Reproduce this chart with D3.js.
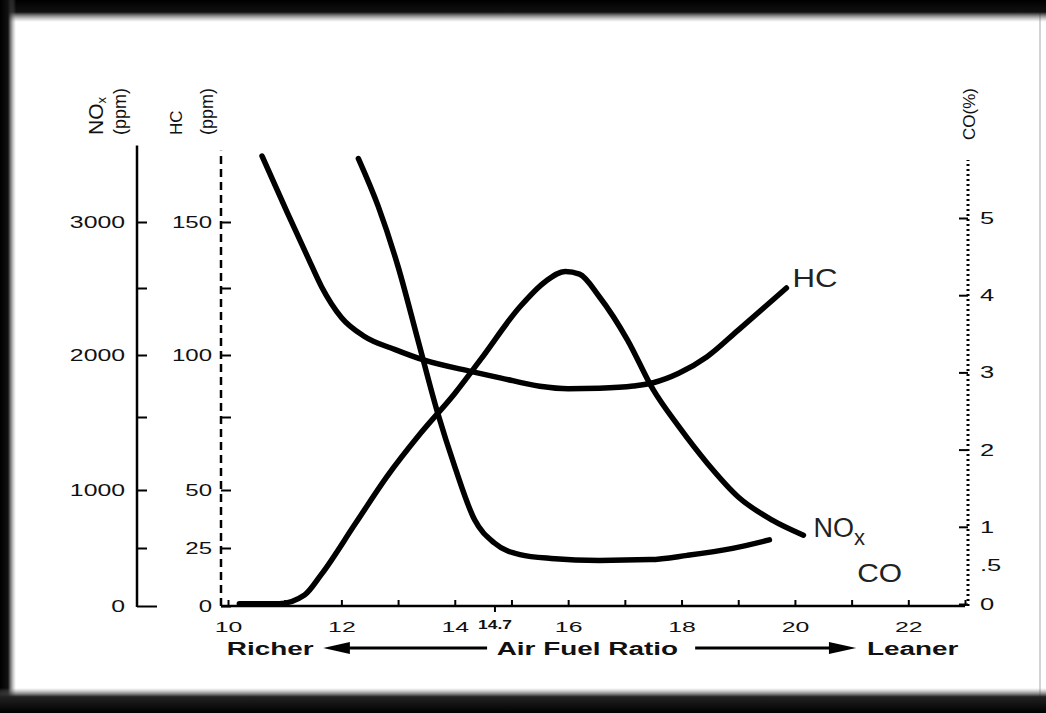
<!DOCTYPE html>
<html>
<head>
<meta charset="utf-8">
<script src="https://cdn.jsdelivr.net/npm/d3@7"></script>
<style>
body { margin: 0; background: #fff; }
svg { display: block; font-family: "Liberation Sans", Arial, sans-serif; }
</style>
</head>
<body>
<svg id="chart" width="1046" height="713"></svg>
<script>
// emissions vs air/fuel ratio
var hcAfr  = [10.6, 11.05, 11.4, 11.65, 12.0, 12.4, 12.95, 13.45, 14.3, 14.8, 15.5, 16.0, 16.55, 17.15, 17.5, 17.95, 18.45, 19.0, 19.85];
var hcPpm  = [175, 153.4, 137, 125.5, 114, 107, 102, 98, 93.3, 90.8, 87.4, 86.4, 86.6, 87.5, 88.8, 92.6, 99.3, 109.3, 125];

var coAfr  = [12.3, 12.65, 13.0, 13.35, 13.7, 14.0, 14.35, 14.7, 15.15, 15.7, 16.55, 17.45, 18.1, 18.9, 19.55];
var coPct  = [5.77, 5.15, 4.37, 3.42, 2.47, 1.78, 1.09, 0.79, 0.64, 0.59, 0.565, 0.575, 0.63, 0.72, 0.83];

var noxAfr = [10.2, 10.9, 11.35, 11.65, 12.25, 12.8, 13.4, 14.0, 14.45, 15.15, 15.6, 15.95, 16.2, 16.55, 17.05, 17.5, 17.95, 18.45, 19.0, 19.6, 20.15];
var noxPpm = [20, 20, 95, 275, 713, 1090, 1390, 1690, 1960, 2360, 2550, 2625, 2605, 2435, 2110, 1720, 1435, 1185, 940, 740, 610];

// ticks and labels
var afrTicks  = [10, 11, 12, 13, 14, 15, 16, 17, 18, 19, 20, 21, 22, 23];
var afrLabels = [10, 12, 14, 16, 18, 20, 22];
var stoich    = [14.7];
var noxTicks  = [0, 500, 1000, 1500, 2000, 2500, 3000];
var noxLabels = [0, 1000, 2000, 3000];
var hcTicks   = [0, 25, 50, 75, 100, 125, 150];
var hcLabels  = [0, 25, 50, 100, 150];
var coTicks   = [0, 0.5, 1, 2, 3, 4, 5];

(function () {
var W = 1046, H = 713;
var svg = d3.select("#chart");

var noxAxisX = 137, hcAxisX = 221, coAxisX = 968, baseY = 606;

var x = d3.scaleLinear().domain([10, 23]).range([228, 965]);
// the printed left scale is not quite even, so a piecewise scale
var noxY = d3.scaleLinear()
    .domain([0, 500, 1000, 1500, 2000, 2500, 3000, 3500])
    .range([606, 548, 490, 417, 355, 288, 222, 156]);
var hcY = d3.scaleLinear()
    .domain(noxY.domain().map(function (d) { return d / 20; }))
    .range(noxY.range());
var coY = d3.scaleLinear().domain([0, 5]).range([604, 218]);

// stretch text horizontally like the scanned original
function stretch(sel, k) {
  sel.each(function () {
    var w = this.getComputedTextLength();
    if (w > 0) d3.select(this).attr("textLength", w * k).attr("lengthAdjust", "spacingAndGlyphs");
  });
}

// frame shading
var defs = svg.append("defs");
function grad(id, x2, y2, stops) {
  var g = defs.append("linearGradient").attr("id", id)
      .attr("x1", 0).attr("y1", 0).attr("x2", x2).attr("y2", y2);
  stops.forEach(function (s) {
    g.append("stop").attr("offset", s[0]).attr("stop-color", s[1]).attr("stop-opacity", s[2]);
  });
}
grad("shTop", 0, 1, [[0, "#000", 1], [0.55, "#111", 1], [1, "#888", 0]]);
grad("shLeft", 1, 0, [[0, "#000", 1], [0.5, "#111", 1], [1, "#888", 0]]);
grad("shBot", 0, 1, [[0, "#888", 0], [0.35, "#222", 1], [1, "#000", 1]]);

svg.append("rect").attr("width", W).attr("height", H).attr("fill", "#fff");
svg.append("line").attr("x1", 1040).attr("x2", 1040).attr("y1", 0).attr("y2", H)
    .attr("stroke", "#d4d4d4").attr("stroke-width", 2);
svg.append("rect").attr("x", 0).attr("y", 0).attr("width", W).attr("height", 22).attr("fill", "url(#shTop)");
svg.append("rect").attr("x", 0).attr("y", 0).attr("width", 16).attr("height", H).attr("fill", "url(#shLeft)");
svg.append("rect").attr("x", 0).attr("y", 688).attr("width", W).attr("height", 25).attr("fill", "url(#shBot)");

function styleAxis(g, size) {
  g.attr("font-family", null).attr("font-size", size);
  g.select(".domain").remove();
  g.selectAll(".tick line").attr("stroke", "#000").attr("stroke-width", 2);
  g.selectAll(".tick text").attr("fill", "#111");
}

// NOx axis (solid)
var gNox = svg.append("g").attr("transform", "translate(" + noxAxisX + ",0)")
    .call(d3.axisLeft(noxY).tickValues(noxTicks).tickSizeInner(-10).tickSizeOuter(0).tickPadding(12)
      .tickFormat(function (d) { return noxLabels.indexOf(d) >= 0 ? d : ""; }));
styleAxis(gNox, 16);
gNox.selectAll(".tick").filter(function (d) { return d === 0; }).select("line").attr("x2", 20);
gNox.append("line").attr("y1", noxY(0) + 1).attr("y2", noxY(3580))
    .attr("stroke", "#000").attr("stroke-width", 2.5);
stretch(gNox.selectAll(".tick text"), 1.55);

// HC axis (dashed)
var gHc = svg.append("g").attr("transform", "translate(" + hcAxisX + ",0)")
    .call(d3.axisLeft(hcY).tickValues(hcTicks).tickSizeInner(-10).tickSizeOuter(0).tickPadding(9)
      .tickFormat(function (d) { return hcLabels.indexOf(d) >= 0 ? d : ""; }));
styleAxis(gHc, 16);
gHc.append("line").attr("y1", hcY(0)).attr("y2", hcY(177))
    .attr("stroke", "#000").attr("stroke-width", 2.5).attr("stroke-dasharray", "8,5");
stretch(gHc.selectAll(".tick text"), 1.5);

// CO axis (dotted, right)
var gCo = svg.append("g").attr("transform", "translate(" + coAxisX + ",0)")
    .call(d3.axisRight(coY).tickValues(coTicks).tickSizeInner(-9).tickSizeOuter(0).tickPadding(12)
      .tickFormat(function (d) { return d === 0.5 ? ".5" : d; }));
styleAxis(gCo, 17);
gCo.selectAll(".tick").filter(function (d) { return d === 0.5; }).select("line").remove();
gCo.append("line").attr("y1", baseY).attr("y2", coY(5.75))
    .attr("stroke", "#000").attr("stroke-width", 3).attr("stroke-dasharray", "2,3");
stretch(gCo.selectAll(".tick text"), 1.5);

// x axis
var gX = svg.append("g").attr("transform", "translate(0," + baseY + ")")
    .call(d3.axisBottom(x).tickValues(afrTicks).tickSizeInner(-6).tickSizeOuter(0).tickPadding(15)
      .tickFormat(function (d) { return afrLabels.indexOf(d) >= 0 ? d : ""; }));
styleAxis(gX, 15.5);
gX.append("line").attr("x1", hcAxisX).attr("x2", x(23))
    .attr("stroke", "#000").attr("stroke-width", 2.5);
stretch(gX.selectAll(".tick text"), 1.6);

var gS = svg.append("g").attr("transform", "translate(0," + baseY + ")")
    .call(d3.axisBottom(x).tickValues(stoich).tickSize(6).tickPadding(8)
      .tickFormat(function (d) { return d; }));
styleAxis(gS, 12);
gS.selectAll(".tick text").attr("font-weight", "bold");
stretch(gS.selectAll(".tick text"), 1.45);

// axis titles
function vtitle(px, py, size) {
  return svg.append("text").attr("transform", "translate(" + px + "," + py + ") rotate(-90)")
      .attr("font-size", size).attr("fill", "#111");
}
var tn = vtitle(103, 135, 21);
tn.append("tspan").text("NO");
tn.append("tspan").attr("font-size", 13).attr("dy", 3).text("x");
vtitle(126, 135, 18).text("(ppm)");
vtitle(182, 135, 17).text("HC");
vtitle(213, 135, 18).text("(ppm)");
vtitle(975, 140, 17).text("CO(%)");

// curves
var line = d3.line().curve(d3.curveMonotoneX);
function curve(afr, vals, yScale) {
  svg.append("path")
      .attr("d", line(afr.map(function (a, i) { return [x(a), yScale(vals[i])]; })))
      .attr("fill", "none").attr("stroke", "#000").attr("stroke-width", 5.5)
      .attr("stroke-linecap", "round").attr("stroke-linejoin", "round");
}
curve(hcAfr, hcPpm, hcY);
curve(coAfr, coPct, coY);
curve(noxAfr, noxPpm, noxY);

// curve labels
var lHc = svg.append("text").attr("x", x(hcAfr[hcAfr.length - 1]) + 6).attr("y", hcY(hcPpm[hcPpm.length - 1]) - 1)
    .attr("font-size", 26).attr("fill", "#222").text("HC");
stretch(lHc, 1.2);
var lNox = svg.append("text").attr("x", x(noxAfr[noxAfr.length - 1]) + 10).attr("y", noxY(noxPpm[noxPpm.length - 1]) + 2)
    .attr("font-size", 27).attr("fill", "#222");
lNox.append("tspan").text("NO");
lNox.append("tspan").attr("font-size", 22).attr("dy", 8).text("x");
var lCo = svg.append("text").attr("x", x(21.1)).attr("y", coY(0.29))
    .attr("font-size", 26).attr("fill", "#222").text("CO");
stretch(lCo, 1.15);

// richer / leaner caption
var capY = 655, arrY = 648;
function bold(v, t) {
  var s = svg.append("text").attr("x", x(v)).attr("y", capY)
      .attr("font-size", 18).attr("font-weight", "bold").attr("fill", "#111").text(t);
  stretch(s, 1.55);
}
bold(9.98, "Richer");
bold(14.74, "Air Fuel Ratio");
bold(21.27, "Leaner");
svg.append("line").attr("x1", x(11.9)).attr("x2", x(14.57)).attr("y1", arrY).attr("y2", arrY)
    .attr("stroke", "#000").attr("stroke-width", 3);
svg.append("path").attr("d", "M" + x(11.68) + "," + arrY + "L" + x(12.15) + "," + (arrY - 6) + "L" + x(12.15) + "," + (arrY + 6) + "Z");
svg.append("line").attr("x1", x(18.24)).attr("x2", x(20.7)).attr("y1", arrY).attr("y2", arrY)
    .attr("stroke", "#000").attr("stroke-width", 3);
svg.append("path").attr("d", "M" + x(21.08) + "," + arrY + "L" + x(20.6) + "," + (arrY - 6) + "L" + x(20.6) + "," + (arrY + 6) + "Z");
})();
</script>
</body>
</html>
